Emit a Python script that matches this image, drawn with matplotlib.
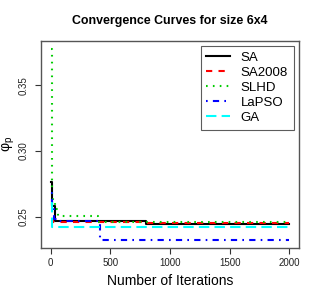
import matplotlib
matplotlib.use("Agg")
import matplotlib.pyplot as plt

# breakpoints of the step curves (iteration, phi_p)
sa_iter = [0, 10, 35, 800, 2000]
sa_val = [0.276, 0.258, 0.2465, 0.2445, 0.2445]
sa2008_iter = [0, 25, 800, 2000]
sa2008_val = [0.248, 0.2456, 0.2449, 0.2449]
slhd_iter = [0, 10, 25, 40, 60, 400, 2000]
slhd_val = [0.378, 0.265, 0.260, 0.256, 0.2502, 0.2462, 0.2462]
lapso_iter = [0, 10, 30, 60, 400, 415, 2000]
lapso_val = [0.268, 0.258, 0.2485, 0.2465, 0.2445, 0.2323, 0.2323]
ga_iter = [0, 15, 2000]
ga_val = [0.260, 0.2418, 0.2418]

labels = ["SA", "SA2008", "SLHD", "LaPSO", "GA"]
xticks = [0, 500, 1000, 1500, 2000]
yticks = [0.25, 0.30, 0.35]

plt.rcParams['font.family'] = ['Liberation Sans', 'DejaVu Sans']

fig = plt.figure(figsize=(3.2, 2.99), dpi=100)
ax = fig.add_axes([0.128, 0.171, 0.806, 0.692])

series = [
    (sa_iter, sa_val, 'black', '-'),
    (sa2008_iter, sa2008_val, 'red', (0, (3, 3))),
    (slhd_iter, slhd_val, '#00CD00', (0, (0.8, 2.5))),
    (lapso_iter, lapso_val, 'blue', (0, (0.8, 2.5, 3, 2.5))),
    (ga_iter, ga_val, 'cyan', (0, (5, 2.5))),
]
for (xs, ys, c, ls), lab in zip(series, labels):
    ax.plot(xs, ys, drawstyle='steps-post', color=c, linestyle=ls, lw=1.5, label=lab)

ax.set_xlim(-80, 2080)
ax.set_ylim(0.2262, 0.3838)
ax.set_xticks(xticks)
ax.set_xticklabels([str(t) for t in xticks])
ax.set_yticks(yticks)
ax.set_yticklabels(["0.25", "0.30", "0.35"], rotation=90, va='center')
ax.tick_params(labelsize=7, length=4, direction='out', colors='#333333', labelcolor='#222222')
ax.tick_params(axis='y', pad=5)
for s in ax.spines.values():
    s.set_color('#555555')
    s.set_linewidth(1.0)

ax.set_title("Convergence Curves for size 6x4", fontsize=8.9, fontweight='bold', pad=12)
ax.set_xlabel("Number of Iterations", fontsize=10)
ax.set_ylabel("φ$_\\mathregular{p}$", fontsize=10, va='center')
ax.yaxis.set_label_coords(-0.125, 0.5)

leg = ax.legend(loc='upper right', fontsize=9.5, frameon=True, fancybox=False,
                edgecolor='#333333', handlelength=1.8, handletextpad=0.8,
                borderpad=0.45, labelspacing=0.2, borderaxespad=0,
                bbox_to_anchor=(0.981, 0.976))
leg.get_frame().set_linewidth(0.8)

fig.savefig("out.png", dpi=100)
